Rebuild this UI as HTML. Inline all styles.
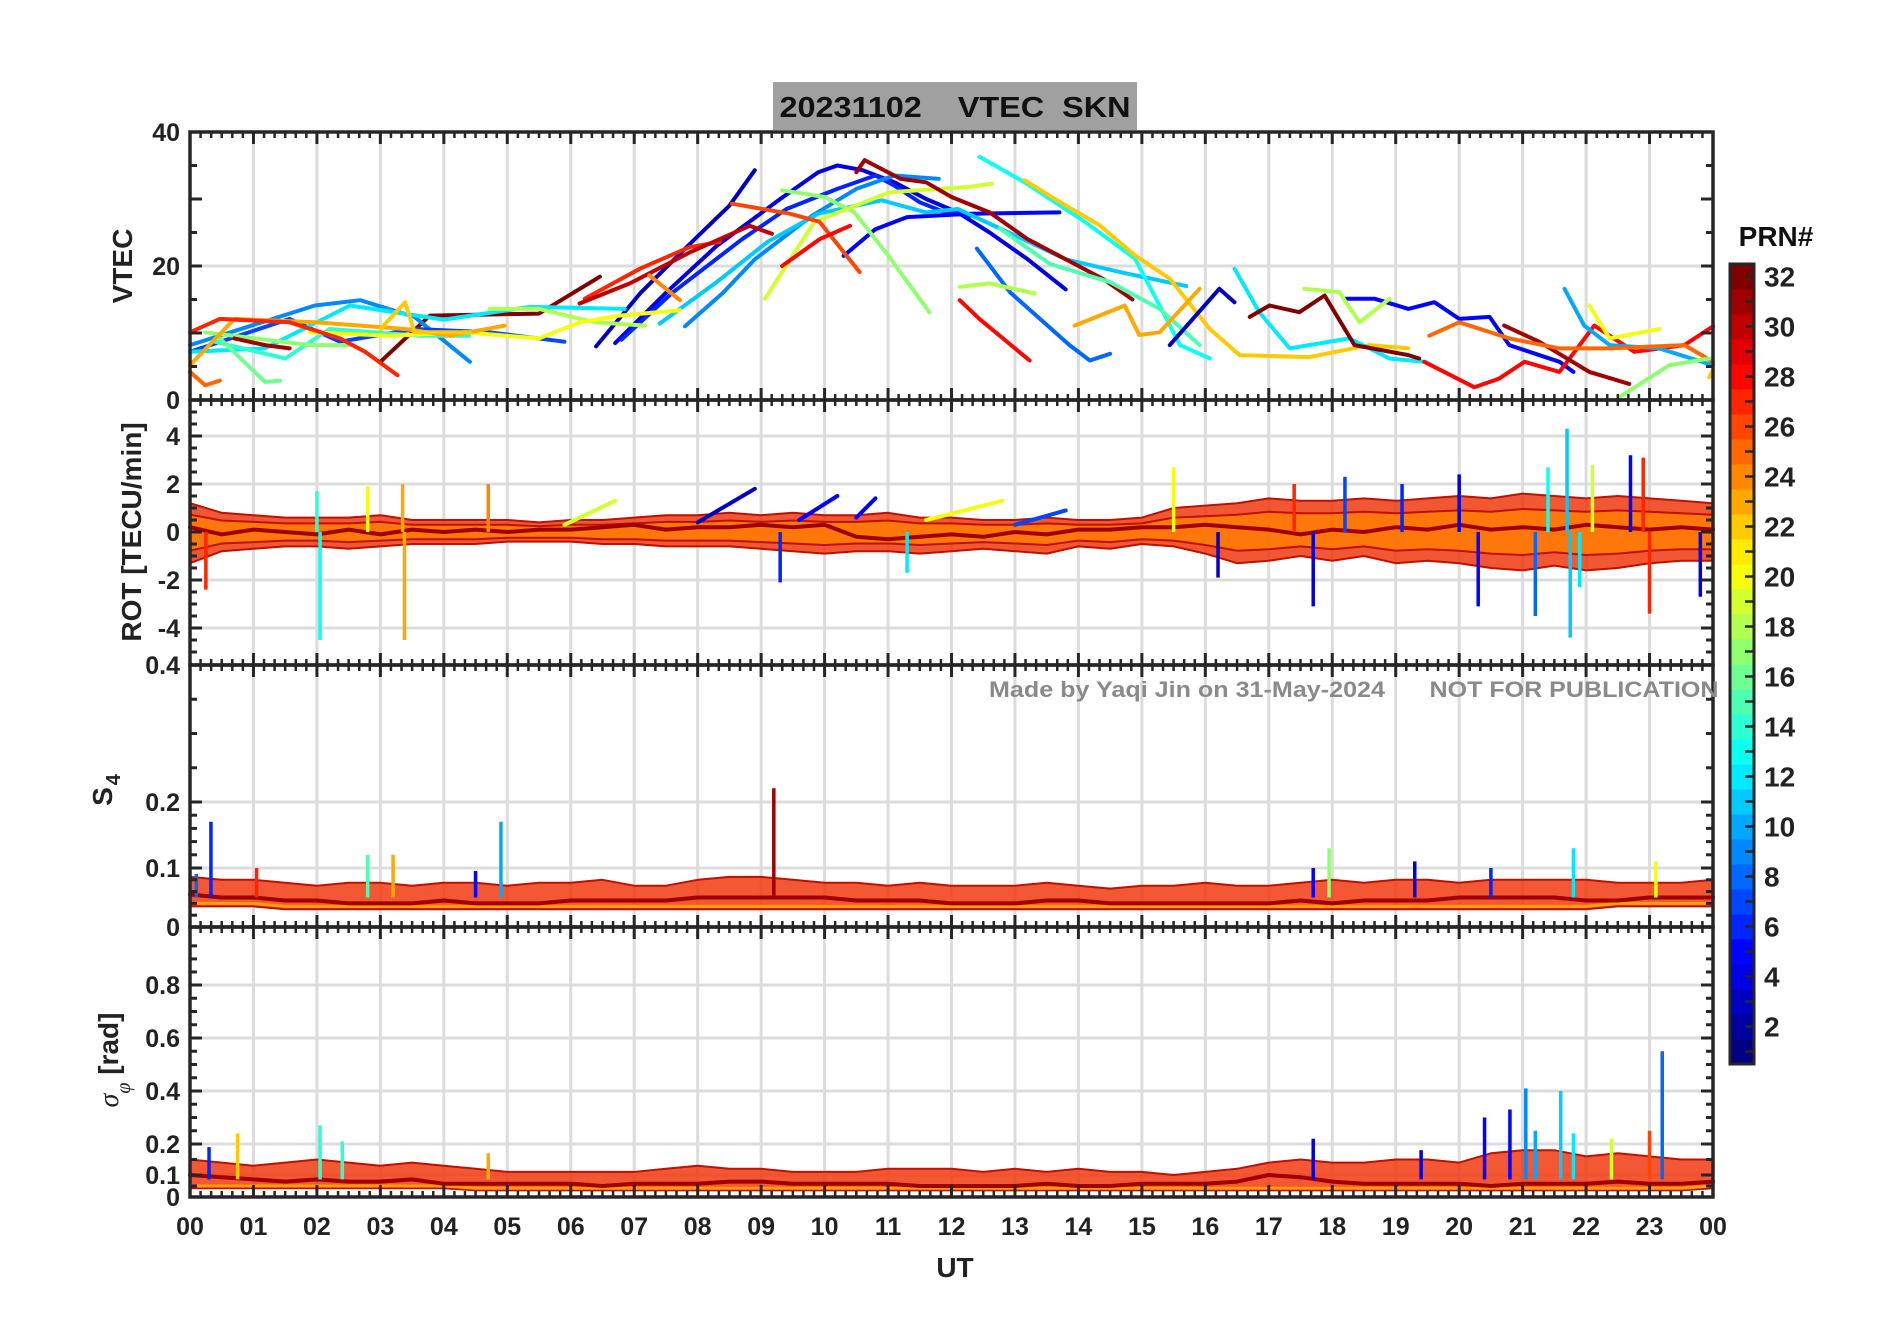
<!DOCTYPE html>
<html><head><meta charset="utf-8">
<style>
html,body{margin:0;padding:0;background:#fff;}
svg{display:block;font-family:"Liberation Sans",Arial,sans-serif;font-weight:bold;}
</style></head>
<body>
<svg id="chart" width="1902" height="1330" viewBox="0 0 1902 1330" xmlns="http://www.w3.org/2000/svg">
<rect x="0" y="0" width="1902" height="1330" fill="#fff"/>
<g id="grid"></g>
<g id="marks"></g>
<g id="axes"></g>
<rect x="773" y="82" width="364" height="48" fill="#a0a0a0"/>
<text x="955" y="117" text-anchor="middle" font-size="29" fill="#111" xml:space="preserve" textLength="351" lengthAdjust="spacingAndGlyphs">20231102    VTEC  SKN</text>
<text x="1187" y="697" text-anchor="middle" font-size="22" fill="#8a8a8a" textLength="396" lengthAdjust="spacingAndGlyphs">Made by Yaqi Jin on 31-May-2024</text>
<text x="1574" y="697" text-anchor="middle" font-size="22" fill="#8a8a8a" textLength="289" lengthAdjust="spacingAndGlyphs">NOT FOR PUBLICATION</text>
<text transform="translate(132,266) rotate(-90)" text-anchor="middle" font-size="28" fill="#222">VTEC</text>
<text transform="translate(141,532) rotate(-90)" text-anchor="middle" font-size="28" fill="#222">ROT [TECU/min]</text>
<text transform="translate(112,790) rotate(-90)" text-anchor="middle" font-size="28" fill="#222">S<tspan font-size="20" dy="8" dx="2">4</tspan></text>
<text transform="translate(118,1060) rotate(-90)" text-anchor="middle" font-size="28" fill="#222"><tspan font-family="Liberation Serif,serif" font-style="italic" font-weight="normal">σ</tspan><tspan font-size="20" dy="12" font-family="Liberation Serif,serif" font-style="italic" font-weight="normal">φ</tspan><tspan dy="-12"> [rad]</tspan></text>
<text x="955" y="1277" text-anchor="middle" font-size="28" fill="#222">UT</text>
<text x="1776" y="246" text-anchor="middle" font-size="28" fill="#111">PRN#</text>
<g id="cbar"></g>
</svg>
<script>
// ---------------- DATA ----------------
const xTickLabels = ["00","01","02","03","04","05","06","07","08","09","10","11","12","13","14","15","16","17","18","19","20","21","22","23","00"];
const vtecTicks = [0,20,40];
const rotTicks = [-4,-2,0,2,4];
const s4Ticks = [0,0.1,0.2,0.4];
const sigTicks = [0,0.1,0.2,0.4,0.6,0.8];
const cbarTicks = [2,4,6,8,10,12,14,16,18,20,22,24,26,28,30,32];

const vtecPrn = [3,4,6,5,9,11,17,19,26,28,31,32,27,30,24,9,7,12,14,16,17,18,20,23,27,25,31,22,13,22,15,28,8,18,23,3,12,32,5,18,28,31,10,20,25,17,22];
const vtecArcs = [
[[6.4,8],[7.1,16],[7.9,23.5],[8.5,29],[8.9,34.3]],
[[6.7,8.5],[7.5,16],[8.3,23],[9.3,30],[9.9,34],[10.2,35],[10.6,34.3],[11.1,32.5],[11.6,30],[12.1,28],[12.6,25],[13.2,21],[13.8,16.5]],
[[6.8,9],[7.6,16],[8.7,24],[9.4,28.5],[10.2,31.5],[10.8,33.5],[11.1,32],[11.5,29.5],[11.9,28],[12.3,27.5]],
[[10.3,21.5],[10.8,25.5],[11.3,27.3],[12.3,27.8],[13.7,28]],
[[7.8,11],[8.4,16],[8.9,21],[9.8,27.5],[10.5,31.5],[11.1,33.5],[11.8,33]],
[[7.4,11.4],[8.3,17.6],[9.1,23.6],[9.9,27.8],[10.9,29.8],[11.6,28],[12.1,28.5],[12.9,25],[13.8,21],[14.7,19],[15.7,17]],
[[9.33,31.3],[10,30.3],[10.47,28],[11,21.6],[11.65,13.1]],
[[9.06,15.1],[9.84,26.6],[11.02,31],[12.28,31.8],[12.64,32.3]],
[[8.54,29.3],[9.45,27.8],[9.92,26.6],[10.55,19.1]],
[[9.33,20],[9.92,24],[10.4,26]],
[[10.5,34],[10.63,35.8],[11.2,33],[11.6,32.5],[12,30.3],[12.6,28],[13.2,24],[13.9,20.5],[14.4,18],[14.85,15]],
[[3,5.7],[3.78,12.6],[5.5,12.9],[6.46,18.4]],
[[6.22,15.1],[7.09,19.6],[7.87,22.8],[8.35,23.6]],
[[6.14,14.4],[6.93,17.4],[7.87,22],[8.82,26],[9.17,24.8]],
[[7.24,18.6],[7.72,14.9]],
[[0,8.2],[1.97,14.1],[2.68,14.9],[3.54,12.4],[4.41,5.7]],
[[0,7.2],[1.57,12.1],[2.36,8.7],[3.54,10.6],[4.72,10.1],[5.9,8.7]],
[[0,7.2],[1.18,7.7],[2.52,14.1],[4,12],[5.35,13.9],[6.85,13.6]],
[[0.39,8.7],[1.5,6.2],[2.2,10.6],[3.62,9.6],[4.4,9.6]],
[[0.47,9.2],[1.18,2.7],[1.42,2.9]],
[[0.24,10.1],[1.89,8.2],[2.52,8.2]],
[[4.72,13.6],[5.5,13.6],[6.38,11.6],[7.17,11.1]],
[[1.89,10.1],[3.15,9.6],[4.33,10.1],[5.5,9.2],[6.14,11.6],[6.77,12.6],[7.72,13.4]],
[[0,5.2],[0.7,12.1],[1.97,11.6],[3.39,10.6],[4.1,9.6],[4.96,11.1]],
[[0,10.1],[0.47,12.1],[1.57,11.6],[2.36,9.2],[2.76,7.2],[3.27,3.7]],
[[0,4.2],[0.24,2.2],[0.47,2.9]],
[[0.7,9.2],[1.18,8.2],[1.57,7.7]],
[[3,10.6],[3.39,14.6],[3.54,10.1],[4.41,10.1]],
[[12.44,36.3],[13.15,32.5],[14.1,26.6],[14.89,21.1],[15.28,14.1],[15.6,8.2],[16.07,6.2]],
[[13.15,32.8],[13.7,29.6],[14.33,26.1],[14.89,21.6],[15.44,18.1],[16.07,10.6],[16.54,6.7],[17.64,6.4],[18.59,8.2],[19.2,7.7]],
[[12.76,25.6],[13.55,20.3],[14.5,17.6],[15.28,13.6],[15.91,8.2]],
[[12.13,14.9],[12.44,12.1],[13.23,5.9]],
[[12.4,22.6],[12.92,16.1],[13.86,8.2],[14.18,5.9],[14.5,6.9]],
[[12.13,16.9],[12.6,17.4],[13.31,15.9]],
[[13.94,11.1],[14.73,14.1],[14.96,9.7],[15.28,10.1],[15.91,16.6]],
[[15.44,8.2],[16.22,16.6],[16.46,14.6]],
[[16.46,19.6],[16.85,13.1],[17.33,7.7],[18.27,9.2],[18.9,6.2],[19.45,5.7]],
[[16.7,12.4],[17.01,14.1],[17.48,13.1],[17.88,15.6],[18.35,8.2],[19.2,6.7],[19.37,6.2]],
[[18.19,15.1],[18.67,15.1],[19.2,13.6],[19.61,14.6],[20,12.1],[20.48,12.4],[20.79,8.2],[21.58,5.7],[21.8,4.2]],
[[17.56,16.6],[18.11,16.1],[18.43,11.6],[18.9,15.1]],
[[19.45,5.7],[20.24,1.9],[20.63,3.2],[21.03,5.7],[21.58,4.2],[22.13,11.1],[22.76,7.2],[23.55,8.2],[24,11]],
[[20.71,11.1],[21.26,8.7],[22.05,4.2],[22.68,2.4]],
[[21.66,16.6],[21.97,11.1],[22.37,8.2],[23.15,7.7],[24,5.2]],
[[22.05,14.1],[22.37,9.2],[23.15,10.6]],
[[19.53,9.6],[20,11.6],[20.79,9.2],[21.58,7.7],[22.37,7.7],[23.55,8.2],[24,5.7]],
[[22.52,0.4],[23.31,5.2],[23.94,6.2]],
[[23.94,3.4],[24,4.4]]
];

const rotHi = [1.2,0.8,0.7,0.6,0.6,0.6,0.7,0.5,0.5,0.5,0.5,0.4,0.5,0.5,0.6,0.7,0.7,0.8,0.7,0.8,0.7,0.7,0.8,0.6,0.6,0.5,0.5,0.6,0.5,0.5,0.6,1.0,1.1,1.2,1.4,1.3,1.3,1.4,1.3,1.4,1.5,1.4,1.6,1.5,1.4,1.5,1.4,1.3,1.2];
const rotLo = [-1.3,-0.8,-0.7,-0.6,-0.6,-0.7,-0.6,-0.5,-0.5,-0.5,-0.4,-0.4,-0.4,-0.5,-0.5,-0.6,-0.6,-0.6,-0.7,-0.8,-0.9,-0.8,-0.8,-0.9,-0.8,-0.7,-0.8,-0.9,-0.6,-0.7,-0.5,-0.6,-0.9,-1.3,-1.2,-1.0,-1.2,-1.0,-1.3,-1.2,-1.3,-1.5,-1.6,-1.4,-1.6,-1.5,-1.3,-1.2,-1.2];
const rotMid = [0.2,-0.1,0.1,0,-0.1,0.1,-0.1,0.1,0,0.1,0,0.1,0.1,0.2,0.3,0.1,0.2,0.2,0.3,0.2,0.3,-0.2,-0.3,-0.2,-0.1,-0.2,0,-0.1,0.1,0.1,0.2,0.2,0.3,0.2,0.1,-0.1,0.1,0,0.2,0.1,0.3,0.1,0.2,0.1,0.3,0.2,0.1,0.2,0.1];
const rotRampPrn = [19,3,5,5,20,7];
const rotRamps = [[[5.9,0.3],[6.7,1.3]],[[8.0,0.4],[8.9,1.8]],[[9.6,0.5],[10.2,1.5]],[[10.5,0.6],[10.8,1.4]],[[11.6,0.5],[12.8,1.3]],[[13.0,0.3],[13.8,0.9]]];
const rotSpikes = [[2.05,-4.5,13],[3.38,-4.5,23],[3.35,2.0,23],[2.8,1.9,20],[4.7,2.0,24],[2.0,1.7,14],[15.5,2.7,20],[17.7,-3.1,4],[20.3,-3.1,5],[21.7,4.3,11],[21.75,-4.4,11],[22.7,3.2,5],[23.0,-3.4,27],[21.2,-3.5,8],[18.2,2.3,7],[17.4,2.0,27],[20.0,2.4,4],[22.9,3.1,27],[23.8,-2.7,4],[0.25,-2.4,27],[9.3,-2.1,6],[11.3,-1.7,12],[16.2,-1.9,3],[21.9,-2.3,12],[22.1,2.8,19],[19.1,2.0,6],[21.4,2.7,13]];

const s4Hi = [0.085,0.08,0.08,0.075,0.07,0.075,0.075,0.07,0.075,0.075,0.07,0.075,0.075,0.08,0.07,0.07,0.08,0.085,0.085,0.08,0.075,0.075,0.07,0.075,0.07,0.07,0.07,0.075,0.07,0.065,0.07,0.07,0.075,0.07,0.07,0.075,0.08,0.075,0.08,0.08,0.075,0.08,0.08,0.08,0.08,0.075,0.075,0.075,0.08];
const s4Lo = [0.035,0.035,0.035,0.03,0.03,0.03,0.03,0.03,0.03,0.03,0.03,0.03,0.03,0.03,0.03,0.03,0.03,0.03,0.03,0.03,0.03,0.03,0.03,0.03,0.03,0.03,0.03,0.03,0.03,0.03,0.03,0.03,0.03,0.03,0.03,0.03,0.03,0.03,0.03,0.03,0.03,0.03,0.03,0.03,0.03,0.035,0.035,0.035,0.035];
const s4Mid = [0.055,0.05,0.05,0.045,0.045,0.04,0.04,0.04,0.045,0.04,0.04,0.04,0.045,0.045,0.045,0.045,0.05,0.05,0.05,0.05,0.05,0.045,0.045,0.045,0.04,0.04,0.04,0.045,0.045,0.04,0.04,0.04,0.04,0.04,0.04,0.045,0.04,0.045,0.045,0.045,0.05,0.05,0.05,0.05,0.045,0.045,0.05,0.05,0.05];
const s4Spikes = [[0.33,0.17,6],[4.9,0.17,10],[9.2,0.22,31],[2.8,0.12,15],[3.2,0.12,23],[17.95,0.13,17],[19.3,0.11,4],[21.8,0.13,12],[23.1,0.11,20],[1.05,0.1,27],[0.1,0.09,8],[17.7,0.1,5],[20.5,0.1,6],[4.5,0.095,5]];

const sigHi = [0.15,0.14,0.13,0.14,0.15,0.14,0.13,0.14,0.13,0.12,0.11,0.11,0.11,0.11,0.11,0.12,0.13,0.12,0.12,0.11,0.11,0.11,0.12,0.12,0.12,0.11,0.12,0.11,0.12,0.11,0.11,0.1,0.11,0.12,0.14,0.15,0.14,0.14,0.15,0.15,0.14,0.17,0.18,0.18,0.16,0.17,0.16,0.15,0.15];
const sigLo = [0.04,0.04,0.04,0.04,0.04,0.04,0.04,0.04,0.04,0.03,0.03,0.03,0.03,0.03,0.03,0.03,0.03,0.03,0.03,0.03,0.03,0.03,0.03,0.03,0.03,0.03,0.03,0.03,0.03,0.03,0.03,0.03,0.03,0.03,0.03,0.03,0.03,0.03,0.03,0.03,0.03,0.03,0.03,0.03,0.03,0.03,0.03,0.03,0.04];
const sigMid = [0.1,0.09,0.08,0.07,0.08,0.07,0.07,0.08,0.06,0.06,0.06,0.06,0.06,0.05,0.06,0.06,0.06,0.07,0.07,0.06,0.06,0.06,0.06,0.05,0.05,0.05,0.05,0.06,0.05,0.05,0.06,0.06,0.06,0.07,0.1,0.09,0.07,0.06,0.06,0.06,0.06,0.05,0.06,0.06,0.06,0.07,0.06,0.06,0.07];
const sigSpikes = [[0.3,0.19,6],[0.75,0.24,22],[2.05,0.27,14],[2.4,0.21,14],[21.05,0.41,9],[21.6,0.4,11],[23.2,0.55,8],[20.4,0.3,5],[20.8,0.33,5],[17.7,0.22,4],[19.4,0.18,4],[22.4,0.22,19],[23.0,0.25,26],[4.7,0.17,23],[21.2,0.25,10],[21.8,0.24,12]];

// ---------------- LAYOUT ----------------
const L = 190, R = 1713;
const panels = [[132,400],[400,665],[665,927],[927,1197]];
const NS = "http://www.w3.org/2000/svg";
function X(h){ return L + h*(R-L)/24; }
function yV(v){ return 400 - v*6.7; }
function yR(v){ return 532 - v*24; }
function interp(v, xs, ys){
  for(let i=0;i<xs.length-1;i++){ if(v<=xs[i+1]) return ys[i]+(v-xs[i])*(ys[i+1]-ys[i])/(xs[i+1]-xs[i]); }
  const n=xs.length-1; return ys[n]+(v-xs[n])*(ys[n]-ys[n-1])/(xs[n]-xs[n-1]);
}
function yS(v){ return interp(v,[0,0.1,0.2,0.4],[927,868,802,665]); }
function yP(v){ return interp(v,[0,0.1,0.2,0.4,0.6,0.8,1.03],[1197,1175,1144,1091,1038,985,925]); }
function jet(prn){
  const t = (prn-1)/31;
  const c = x => Math.round(255*Math.max(0,Math.min(1,x)));
  const r = c(1.5-Math.abs(4*t-3)), g = c(1.5-Math.abs(4*t-2)), b = c(1.5-Math.abs(4*t-1));
  return `rgb(${r},${g},${b})`;
}
function mk(tag, attrs, parent){
  const e = document.createElementNS(NS, tag);
  for(const k in attrs) e.setAttribute(k, attrs[k]);
  parent.appendChild(e); return e;
}
const gGrid = document.getElementById('grid');
const gMarks = document.getElementById('marks');
const gAxes = document.getElementById('axes');
const gC = document.getElementById('cbar');

panels.forEach(([t,b])=>{
  for(let h=1;h<24;h++){
    const ln = mk('line',{x1:X(h),x2:X(h),y1:t,y2:b,stroke:'#dcdcdc','stroke-width':3},gGrid);
    
    
  }
});
function hgrid(ys){ ys.forEach(y=>{ const ln=mk('line',{x1:L,x2:R,y1:y,y2:y,stroke:'#dcdcdc','stroke-width':3},gGrid);
  
   }); }
hgrid(vtecTicks.map(yV)); hgrid(rotTicks.map(yR)); hgrid(s4Ticks.map(yS)); hgrid(sigTicks.map(yP));

function poly(pts, color, w, name){
  const p = mk('polyline',{points:pts.map(q=>q[0].toFixed(1)+','+q[1].toFixed(1)).join(' '),fill:'none',stroke:color,'stroke-width':w,'stroke-linejoin':'round','stroke-linecap':'round'},gMarks);
  
  
  return p;
}
function band(hi, lo, yf, color, name, op){
  const top = hi.map((v,i)=>[X(i*0.5),yf(v)]);
  const bot = lo.map((v,i)=>[X(i*0.5),yf(v)]).reverse();
  const p = mk('polygon',{points:top.concat(bot).map(q=>q[0].toFixed(1)+','+q[1].toFixed(1)).join(' '),fill:color,'fill-opacity':op,stroke:'#c01000','stroke-width':2,'stroke-linejoin':'round'},gMarks);
  
  
}
function spikes(arr, yf, base, name){
  arr.forEach(s=>{
    const ln = mk('line',{x1:X(s[0]),x2:X(s[0]),y1:yf(base),y2:yf(s[1]),stroke:jet(s[2]),'stroke-width':3.5},gMarks);
    
    
  });
}
vtecArcs.forEach((arc,i)=>{ poly(arc.map(p=>[X(p[0]),yV(p[1])]), jet(vtecPrn[i]), 4, 'vtec-arc-prn'+vtecPrn[i]); });

band(rotHi, rotLo, yR, '#f03a10', 'rot-band', 0.85);
band(rotHi.map(v=>v*0.6), rotLo.map(v=>v*0.6), yR, '#ff8000', 'rot-band-core', 0.8);
poly(rotMid.map((v,i)=>[X(i*0.5),yR(v)]), '#a00000', 4, 'rot-median-line');
rotRamps.forEach((r,i)=>{ poly(r.map(p=>[X(p[0]),yR(p[1])]), jet(rotRampPrn[i]), 4, 'rot-arc-end'); });
spikes(rotSpikes, yR, 0, 'rot-spike');

band(s4Hi, s4Lo, yS, '#f23a10', 's4-band', 0.85);
poly(s4Lo.map((v,i)=>[X(i*0.5),yS(v+0.005)]), '#ffa000', 3, 's4-low-line');
poly(s4Mid.map((v,i)=>[X(i*0.5),yS(v)]), '#a00000', 4, 's4-median-line');
spikes(s4Spikes, yS, 0.05, 's4-spike');

band(sigHi, sigLo, yP, '#f23a10', 'sigma-band', 0.85);
poly(sigLo.map((v,i)=>[X(i*0.5),yP(v+0.01)]), '#ffa000', 3, 'sigma-low-line');
poly(sigMid.map((v,i)=>[X(i*0.5),yP(v)]), '#a00000', 4, 'sigma-median-line');
spikes(sigSpikes, yP, 0.08, 'sigma-spike');

const AX = '#262626';
function tick(x1,y1,x2,y2,w,name){ const l=mk('line',{x1,y1,x2,y2,stroke:AX,'stroke-width':w},gAxes);
  
   }
panels.forEach(([t,b],pi)=>{
  const fr = mk('rect',{x:L,y:t,width:R-L,height:b-t,fill:'none',stroke:AX,'stroke-width':3.5},gAxes);
  
  
  for(let k=1;k<144;k++){
    const x=X(k/6), major=(k%6===0), len=major?12:6;
    tick(x,t,x,t+len,major?3:2.5,'x-tick');
    tick(x,b,x,b-len,major?3:2.5,'x-tick');
  }
});
function yticks(vals, yf, len){ vals.forEach(v=>{ const y=yf(v); tick(L,y,L+len,y,3,'y-tick'); tick(R,y,R-len,y,3,'y-tick'); }); }
yticks([5,10,15,25,30,35],yV,7); yticks([10,20,30],yV,12);
const rotMinor=[]; for(let v=-5;v<=5;v+=0.5){ if(v%2!==0) rotMinor.push(v); }
yticks(rotMinor,yR,7); yticks(rotTicks,yR,12);
yticks([0.02,0.04,0.06,0.08,0.12,0.14,0.16,0.18,0.25,0.3,0.35],yS,7); yticks([0.1,0.2],yS,12);
yticks([0.05,0.15,0.25,0.3,0.35,0.45,0.5,0.55,0.65,0.7,0.75,0.85,0.9,0.95],yP,7); yticks([0.1,0.2,0.4,0.6,0.8],yP,12);

function lab(x,y,txt,anchor,name,size){ const e=mk('text',{x,y,'text-anchor':anchor,'font-size':size||25,fill:'#222'},gAxes); e.textContent=txt;
  
   }
vtecTicks.forEach(v=>lab(180,yV(v)+9,String(v),'end','y-tick-label-vtec'));
rotTicks.forEach(v=>lab(180,yR(v)+9,String(v),'end','y-tick-label-rot'));
s4Ticks.forEach(v=>lab(180,yS(v)+9,String(v),'end','y-tick-label-s4'));
sigTicks.forEach(v=>lab(180,yP(v)+9,String(v),'end','y-tick-label-sigma'));
xTickLabels.forEach((s,i)=>lab(X(i),1235,s,'middle','x-tick-label'));

const cT=264, cB=1064, cL=1730, cW=24;
for(let p=1;p<=32;p++){
  const h=(cB-cT)/32, y=cB-p*h;
  const r=mk('rect',{x:cL,y:y,width:cW,height:h+0.5,fill:jet(p)},gC);
  
  
}
const cf=mk('rect',{x:cL,y:cT,width:cW,height:cB-cT,fill:'none',stroke:AX,'stroke-width':3},gC);


function cY(v){ return cB - (v-0.5)*(cB-cT)/32; }
for(let v=1;v<=32;v++){ const l=mk('line',{x1:cL+cW,x2:cL+cW-9,y1:cY(v),y2:cY(v),stroke:AX,'stroke-width':2.5},gC);
  
   }
cbarTicks.forEach(v=>{ const e=mk('text',{x:1764,y:cY(v)+10,'font-size':28,fill:'#222'},gC); e.textContent=String(v);
  
   });
</script>
</body></html>
